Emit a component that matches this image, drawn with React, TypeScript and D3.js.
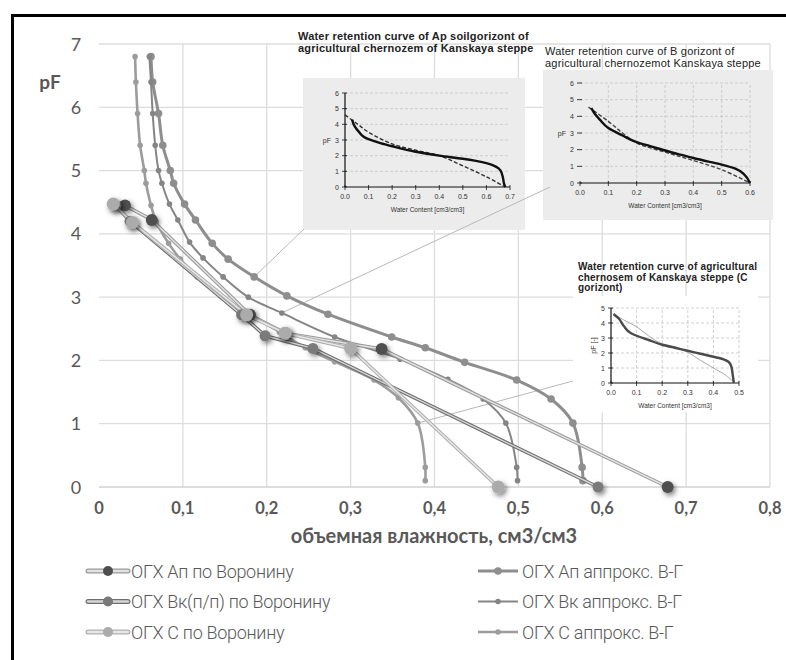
import React from "react";
import * as d3 from "d3";

// main chart data: [water content, pF]
const apVoronin = [[0.031, 4.45], [0.063, 4.22], [0.18, 2.72], [0.222, 2.43], [0.337, 2.18], [0.678, 0]];
const vkVoronin = [[0.02, 4.45], [0.037, 4.2], [0.17, 2.72], [0.198, 2.39], [0.255, 2.19], [0.595, 0]];
const cVoronin = [[0.017, 4.47], [0.04, 4.18], [0.176, 2.72], [0.222, 2.43], [0.30, 2.19], [0.476, 0]];

const apVG = [[0.062, 6.8], [0.064, 6.4], [0.071, 5.9], [0.076, 5.4], [0.085, 5.0], [0.089, 4.8], [0.102, 4.47], [0.115, 4.22],
  [0.135, 3.85], [0.154, 3.6], [0.185, 3.32], [0.224, 3.02], [0.273, 2.73], [0.349, 2.37], [0.389, 2.2], [0.436, 1.97],
  [0.498, 1.69], [0.539, 1.39], [0.565, 1.01], [0.576, 0.31], [0.577, 0.1]];
const vkVG = [[0.06, 6.8], [0.062, 6.4], [0.064, 5.9], [0.067, 5.4], [0.071, 5.0], [0.075, 4.8], [0.084, 4.47], [0.094, 4.22],
  [0.108, 3.87], [0.124, 3.62], [0.148, 3.32], [0.178, 3.0], [0.218, 2.75], [0.281, 2.37], [0.359, 2.02], [0.416, 1.7],
  [0.458, 1.39], [0.485, 1.01], [0.498, 0.31], [0.499, 0.1]];
const cVG = [[0.043, 6.8], [0.044, 6.4], [0.046, 5.9], [0.049, 5.4], [0.054, 5.0], [0.056, 4.8], [0.062, 4.45], [0.068, 4.2],
  [0.083, 3.85], [0.097, 3.6], [0.117, 3.32], [0.145, 3.02], [0.18, 2.73], [0.215, 2.45], [0.246, 2.2], [0.281, 1.98],
  [0.328, 1.69], [0.357, 1.41], [0.38, 1.01], [0.389, 0.31], [0.389, 0.1]];

const xTicks = [0, 0.1, 0.2, 0.3, 0.4, 0.5, 0.6, 0.7, 0.8];
const yTicks = [0, 1, 2, 3, 4, 5, 6, 7];

// inset data
const apFit = [[0.03, 4.3], [0.04, 3.9], [0.06, 3.5], [0.08, 3.2], [0.1, 3.05], [0.15, 2.8], [0.2, 2.6], [0.3, 2.25], [0.4, 2.0],
  [0.5, 1.8], [0.55, 1.68], [0.6, 1.52], [0.64, 1.3], [0.66, 1.05], [0.67, 0.6], [0.675, 0.2], [0.68, 0]];
const apMeas = [[0.0, 4.6], [0.05, 4.05], [0.1, 3.5], [0.2, 2.75], [0.3, 2.35], [0.4, 2.0], [0.5, 1.35], [0.6, 0.65], [0.68, 0]];
const bFit = [[0.04, 4.5], [0.05, 4.2], [0.07, 3.8], [0.1, 3.3], [0.15, 2.85], [0.2, 2.45], [0.25, 2.2], [0.3, 1.95], [0.35, 1.72],
  [0.4, 1.5], [0.45, 1.3], [0.5, 1.1], [0.55, 0.85], [0.58, 0.5], [0.6, 0]];
const bMeas = [[0.03, 4.55], [0.1, 3.7], [0.15, 3.0], [0.2, 2.4], [0.3, 1.85], [0.4, 1.35], [0.5, 0.8], [0.6, 0]];
const cFit = [[0.01, 4.6], [0.03, 4.3], [0.05, 3.8], [0.08, 3.3], [0.1, 3.15], [0.15, 2.85], [0.2, 2.55], [0.25, 2.35], [0.3, 2.15],
  [0.35, 1.95], [0.4, 1.75], [0.44, 1.58], [0.46, 1.4], [0.47, 1.1], [0.475, 0.6], [0.48, 0]];
const cMeas = [[0.01, 4.6], [0.05, 4.2], [0.1, 3.75], [0.15, 3.1], [0.2, 2.6], [0.25, 2.4], [0.3, 2.05], [0.35, 1.5], [0.4, 1.0],
  [0.45, 0.5], [0.48, 0.05]];

const legendLeft = ["ОГХ Ап по Воронину", "ОГХ Вк(п/п) по Воронину", "ОГХ С по Воронину"];
const legendRight = ["ОГХ Ап аппрокс. В-Г", "ОГХ Вк аппрокс. В-Г", "ОГХ С аппрокс. В-Г"];

const X = d3.scaleLinear().domain([0, 0.8]).range([99, 770]);
const Y = d3.scaleLinear().domain([0, 7]).range([487, 44]);
const mainLine = d3.line<number[]>().x(d => X(d[0])).y(d => Y(d[1])).curve(d3.curveCatmullRom);
const straight = d3.line<number[]>().x(d => X(d[0])).y(d => Y(d[1]));

const voronin = [
  { data: apVoronin, outer: "#9a9a9a", inner: "#e2e2e2", fill: "#4f4f4f", r: 6 },
  { data: vkVoronin, outer: "#6e6e6e", inner: "#d6d6d6", fill: "#7a7a7a", r: 5.5 },
  { data: cVoronin, outer: "#b0b0b0", inner: "#e8e8e8", fill: "#ababab", r: 6.5 },
];
const vg = [
  { data: apVG, color: "#8e8e8e", w: 3, r: 3.8 },
  { data: vkVG, color: "#858585", w: 2, r: 2.8 },
  { data: cVG, color: "#9c9c9c", w: 2.6, r: 2.8 },
];

const Inset = ({ box, title, tx, ty, titleStyle, x0, x1, y0, y1, xMax, yMax, fit, meas, fitColor, measColor, measDash, gridX, gridY, yAxisLine, yLabel, rotateLabel }) => {
  const xs = d3.scaleLinear().domain([0, xMax]).range([x0, x1]);
  const ys = d3.scaleLinear().domain([0, yMax]).range([y0, y1]);
  const ln = d3.line<number[]>().x(d => xs(d[0])).y(d => ys(d[1])).curve(d3.curveMonotoneY);
  const lnS = d3.line<number[]>().x(d => xs(d[0])).y(d => ys(d[1])).curve(d3.curveCatmullRom);
  const xt = d3.range(0, Math.round(xMax * 10) + 1).map(i => i / 10);
  const yt = d3.range(0, yMax + 1);
  return (
    <g fontFamily="Liberation Sans, Arial, sans-serif">
      <rect x={box[0]} y={box[1]} width={box[2]} height={box[3]} fill={box[4]} />
      {title.map((t, i) => (
        <text key={i} x={tx} y={ty + i * titleStyle.lh} fontSize={titleStyle.size} fontWeight={titleStyle.weight}
          letterSpacing={titleStyle.ls} fill="#222">{t}</text>
      ))}
      {gridY && yt.filter(v => v > 0).map(v => (
        <line key={"gy" + v} x1={x0} x2={xs(xMax)} y1={ys(v)} y2={ys(v)} stroke="#c4c4c4" strokeDasharray="3,2" strokeWidth={0.8} />
      ))}
      {gridX && xt.filter(v => v > 0).map(v => (
        <line key={"gx" + v} x1={xs(v)} x2={xs(v)} y1={y0} y2={ys(yMax)} stroke="#c4c4c4" strokeDasharray="3,2" strokeWidth={0.8} />
      ))}
      {yAxisLine && <line x1={x0} x2={x0} y1={y0} y2={ys(yMax)} stroke="#111" strokeWidth={1.2} />}
      <line x1={x0} x2={xs(xMax)} y1={y0} y2={y0} stroke="#111" strokeWidth={1.2} />
      {yt.map(v => (
        <g key={"yt" + v}>
          <line x1={x0 - 3} x2={x0 + 2} y1={ys(v)} y2={ys(v)} stroke="#111" strokeWidth={0.8} />
          <text x={x0 - 6} y={ys(v) + 2.5} fontSize={7} textAnchor="end" fill="#333">{v}</text>
        </g>
      ))}
      {xt.map(v => (
        <g key={"xt" + v}>
          <line x1={xs(v)} x2={xs(v)} y1={y0 - 2} y2={y0 + 3} stroke="#111" strokeWidth={0.8} />
          <text x={xs(v)} y={y0 + 12} fontSize={7} textAnchor="middle" fill="#333">{v.toFixed(1)}</text>
        </g>
      ))}
      <text x={(x0 + xs(xMax)) / 2} y={y0 + 25} fontSize={6.5} textAnchor="middle" fill="#333">Water Content [cm3/cm3]</text>
      {rotateLabel ? (
        <text transform={`translate(${x0 - 15},${(y0 + ys(yMax)) / 2}) rotate(-90)`} fontSize={7} textAnchor="middle" fill="#333">{yLabel}</text>
      ) : (
        <text x={x0 - 14} y={ys(3) + 2.5} fontSize={7} textAnchor="end" fill="#333">{yLabel}</text>
      )}
      <path d={lnS(meas)} fill="none" stroke={measColor} strokeWidth={measDash ? 1.4 : 1} strokeDasharray={measDash ? "4,2" : undefined} />
      <path d={ln(fit)} fill="none" stroke={fitColor} strokeWidth={2.4} />
    </g>
  );
};

const App = () => {
  return (
    <svg width={786} height={660} style={{ position: "absolute", left: 0, top: 0, background: "#fff" }} fontFamily="Lato, 'Open Sans', sans-serif">
      <defs>
        <filter id="shadow" x="-100%" y="-100%" width="300%" height="300%">
          <feDropShadow dx={2} dy={2.5} stdDeviation={2.4} floodColor="#000" floodOpacity={0.5} />
        </filter>
      </defs>
      <rect x={0} y={0} width={786} height={660} fill="#fff" />
      <rect x={12.5} y={15.5} width={800} height={700} fill="none" stroke="#000" strokeWidth={3} />

      {/* grid */}
      {xTicks.filter(v => v > 0).map(v => (
        <line key={"vx" + v} x1={X(v)} x2={X(v)} y1={Y(7)} y2={Y(0)} stroke="#dcdcdc" strokeWidth={1.3} />
      ))}
      {yTicks.map(v => (
        <line key={"hy" + v} x1={X(0)} x2={X(0.8)} y1={Y(v)} y2={Y(v)} stroke={v === 0 ? "#d2d2d2" : "#dcdcdc"} strokeWidth={v === 0 ? 1.6 : 1.3} />
      ))}
      {yTicks.map(v => (
        <text key={"yl" + v} x={76} y={Y(v) + 6.5} fontSize={18} fill="#595959" textAnchor="middle">{v}</text>
      ))}
      {xTicks.map(v => (
        <text key={"xl" + v} x={X(v)} y={514} fontSize={16.5} fontWeight="bold" fill="#595959" textAnchor="middle">{v === 0 ? "0" : v.toFixed(1).replace(".", ",")}</text>
      ))}
      <text x={50} y={89} fontSize={19} fontWeight="bold" fill="#595959" textAnchor="middle">pF</text>
      <text x={434} y={543} fontSize={20} fontWeight="bold" fill="#595959" textAnchor="middle">объемная влажность, см3/см3</text>

      {/* insets */}
      <Inset box={[303, 78, 222, 152, "#ececec"]} title={["Water retention curve of Ap soilgorizont of", "agricultural chernozem of Kanskaya steppe"]}
        tx={298} ty={40} titleStyle={{ size: 11, weight: "bold", ls: 0.2, lh: 12 }} x0={345} x1={510} y0={187} y1={93} xMax={0.7} yMax={6}
        fit={apFit} meas={apMeas} fitColor="#111" measColor="#333" measDash={true} gridX={false} gridY={true} yAxisLine={true} yLabel="pF" rotateLabel={false} />
      <Inset box={[543, 70, 230, 150, "#ececec"]} title={["Water retention curve of B gorizont of", "agricultural chernozemot Kanskaya steppe"]}
        tx={545} ty={55} titleStyle={{ size: 11, weight: "normal", ls: 0.2, lh: 11.5 }} x0={580} x1={750} y0={183} y1={83} xMax={0.6} yMax={6}
        fit={bFit} meas={bMeas} fitColor="#111" measColor="#444" measDash={true} gridX={true} gridY={true} yAxisLine={false} yLabel="pF" rotateLabel={false} />
      <Inset box={[573, 296, 185, 116, "#fff"]} title={["Water retention curve of agricultural", "chernosem of Kanskaya steppe (C", "gorizont)"]}
        tx={578} ty={270} titleStyle={{ size: 10, weight: "bold", ls: 0.2, lh: 10.5 }} x0={611} x1={739} y0={383} y1={308} xMax={0.5} yMax={5}
        fit={cFit} meas={cMeas} fitColor="#4a4a4a" measColor="#a8a8a8" measDash={false} gridX={true} gridY={true} yAxisLine={true} yLabel="pF [-]" rotateLabel={true} />

      {/* callout lines */}
      <line x1={X(0.185)} y1={Y(3.32)} x2={304} y2={229} stroke="#b8b8b8" strokeWidth={1} />
      <line x1={X(0.218)} y1={Y(2.75)} x2={550} y2={187} stroke="#b8b8b8" strokeWidth={1} />
      <line x1={X(0.38)} y1={Y(1.01)} x2={573} y2={381} stroke="#b8b8b8" strokeWidth={1} />

      {/* van Genuchten approximations */}
      {vg.map((s, i) => (
        <g key={"vg" + i}>
          <path d={mainLine(s.data)} fill="none" stroke={s.color} strokeWidth={s.w} />
          {s.data.map((d, j) => (
            <circle key={j} cx={X(d[0])} cy={Y(d[1])} r={s.r} fill={s.color} />
          ))}
        </g>
      ))}

      {/* Voronin */}
      {voronin.map((s, i) => (
        <g key={"vr" + i}>
          <path d={straight(s.data)} fill="none" stroke={s.outer} strokeWidth={3.6} />
          <path d={straight(s.data)} fill="none" stroke={s.inner} strokeWidth={1.4} />
        </g>
      ))}
      {voronin.map((s, i) => (
        <g key={"vm" + i} filter="url(#shadow)">
          {s.data.map((d, j) => (
            <circle key={j} cx={X(d[0])} cy={Y(d[1])} r={s.r} fill={s.fill} />
          ))}
        </g>
      ))}

      {/* legend */}
      {legendLeft.map((t, i) => (
        <g key={"ll" + i} transform={`translate(88,${571 + i * 30.5})`}>
          <line x1={0} x2={40} y1={0} y2={0} stroke={voronin[i].outer} strokeWidth={5} strokeLinecap="round" />
          <line x1={0} x2={40} y1={0} y2={0} stroke={voronin[i].inner} strokeWidth={2.4} strokeLinecap="round" />
          <circle cx={20} cy={0} r={5} fill={voronin[i].fill} />
          <text x={43} y={6.5} fontSize={18} fill="#595959" fontFamily="Roboto, sans-serif" fontWeight="300" letterSpacing="-0.3">{t}</text>
        </g>
      ))}
      {legendRight.map((t, i) => (
        <g key={"lr" + i} transform={`translate(478,${571 + i * 30.5})`}>
          <line x1={0} x2={40} y1={0} y2={0} stroke={vg[i].color} strokeWidth={vg[i].w} />
          <circle cx={20} cy={0} r={vg[i].r} fill={vg[i].color} />
          <text x={44} y={6.5} fontSize={18} fill="#595959" fontFamily="Roboto, sans-serif" fontWeight="300" letterSpacing="-0.3">{t}</text>
        </g>
      ))}
    </svg>
  );
};

export default App;
